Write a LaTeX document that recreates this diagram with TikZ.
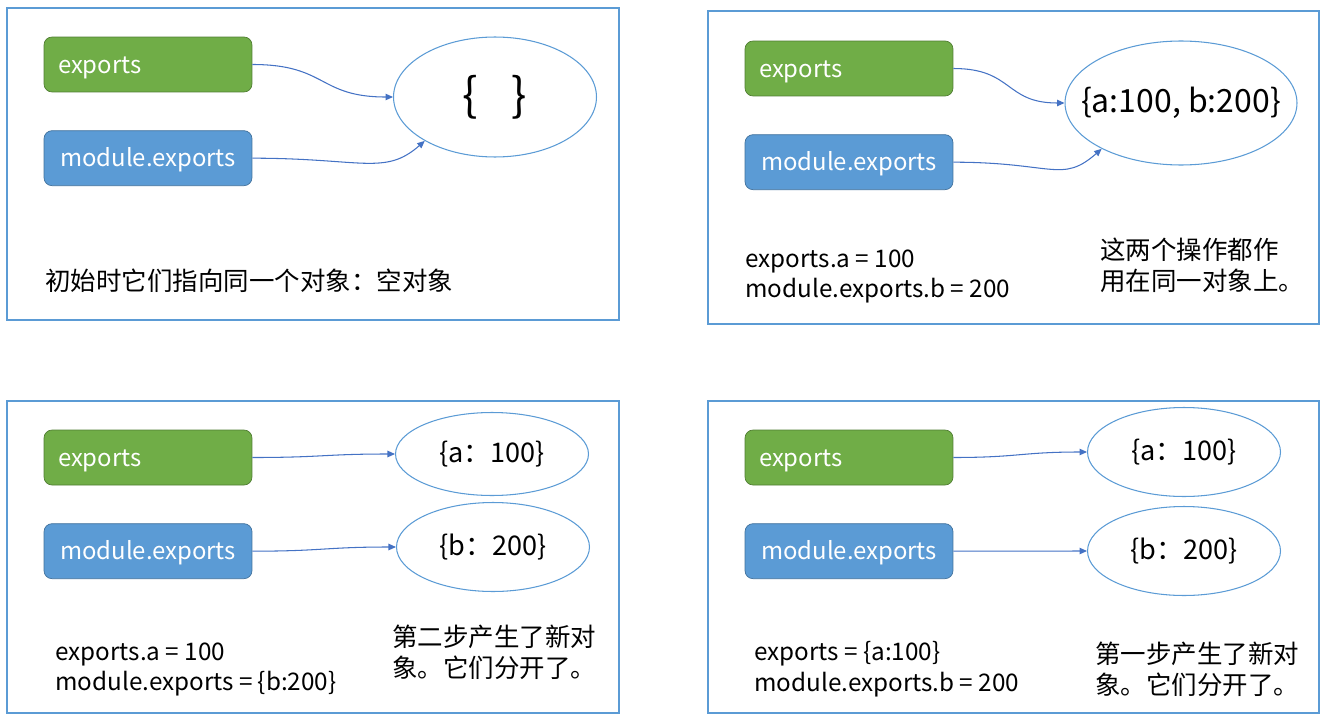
\documentclass[tikz,border=0pt]{standalone}
\usepackage{fontspec}
\setmainfont{Noto Sans CJK SC}
\usepackage{xcolor}
\usepackage{tikz}
\usetikzlibrary{positioning,shapes.geometric,arrows.meta}

\definecolor{boxgreen}{HTML}{70AD47}
\definecolor{boxgreenline}{HTML}{507E32}
\definecolor{boxblue}{HTML}{5B9BD5}
\definecolor{boxblueline}{HTML}{41719C}
\definecolor{framecol}{HTML}{5B9BD5}
\definecolor{arrowcol}{HTML}{4472C4}

\begin{document}
\begin{tikzpicture}[x=0.02cm,y=-0.02cm,
    panel/.style={draw=framecol, line width=0.6pt},
    gbox/.style={rectangle, rounded corners=0.16cm, fill=boxgreen, draw=boxgreenline,
      text=white, minimum height=1.1cm, text width=3.6cm, inner xsep=0.28cm, align=left,
      text height=1.1em, text depth=0.1em, font=\fontsize{13.6}{17.6}\selectfont},
    bbox/.style={rectangle, rounded corners=0.16cm, fill=boxblue, draw=boxblueline,
      text=white, minimum height=1.1cm, minimum width=4.16cm,
      text height=1.1em, text depth=0.1em, font=\fontsize{13.6}{17.6}\selectfont},
    obj/.style={ellipse, draw=framecol, line width=0.6pt, inner sep=0pt},
    note/.style={anchor=west, inner sep=0pt, align=left,
      font=\fontsize{14.5}{17.6}\selectfont},
    code/.style={anchor=west, inner sep=0pt, align=left,
      font=\fontsize{13.8}{17.6}\selectfont},
    ptr/.style={draw=arrowcol, line width=0.6pt, -{Triangle[length=1.5mm,width=1.3mm]}},
    node distance=0.76cm]
    \useasboundingbox (0,0) rectangle (1331,723);

    % panel 1
    \draw[panel] (7,8) rectangle (619,320);
    \node [gbox] (g1) at (148,64.5) {exports};
    \node [bbox, below=of g1] (b1) {module.exports};
    \node [obj, minimum width=4.06cm, minimum height=2.4cm,
      label={[font=\fontsize{26}{28}\selectfont]center:\{\hspace{0.68cm}\}}] (e1) at (495,97) {};
    \node [note] (t1) at (45,281) {初始时它们指向同一个对象：空对象};
    \draw[ptr] (g1.east) .. controls +(75,0) and +(-75,0) .. (e1.west);
    \draw[ptr] (b1.east) .. controls +(110,0) and +(-40,35) .. (e1.-148);

    % panel 2
    \draw[panel] (708,11) rectangle (1319,324);
    \node [gbox] (g2) at (849,68.5) {exports};
    \node [bbox, below=of g2] (b2) {module.exports};
    \node [obj, minimum width=4.64cm, minimum height=2.48cm,
      label={[font=\fontsize{18.2}{20}\selectfont]center:\{a:100, b:200\}}] (e2) at (1181,103) {};
    \node [code] (t2a) at (745,276.5) {exports.a = 100\\module.exports.b = 200};
    \node [note] (t2b) at (1100,265) {这两个操作都作\\用在同一对象上。};
    \draw[ptr] (g2.east) .. controls +(60,0) and +(-60,0) .. (e2.west);
    \draw[ptr] (b2.east) .. controls +(100,0) and +(-40,35) .. (e2.-150);

    % panel 3
    \draw[panel] (7,401) rectangle (619,713);
    \node [gbox] (g3) at (148,457.5) {exports};
    \node [bbox, below=of g3] (b3) {module.exports};
    \node [obj, minimum width=3.86cm, minimum height=1.66cm,
      label={[font=\fontsize{15.4}{19}\selectfont]center:\{a：100\}}] (ea3) at (492,454) {};
    \node [obj, minimum width=3.86cm, minimum height=1.78cm,
      label={[font=\fontsize{15.4}{19}\selectfont]center:\{b：200\}}] (eb3) at (493,547) {};
    \node [code] (t3a) at (55,669.5) {exports.a = 100\\module.exports = \{b:200\}};
    \node [note] (t3b) at (392,652.5) {第二步产生了新对\\象。它们分开了。};
    \draw[ptr] (g3.east) .. controls +(70,0) and +(-70,0) .. (ea3.west);
    \draw[ptr] (b3.east) .. controls +(70,0) and +(-70,0) .. (eb3.west);

    % panel 4
    \draw[panel] (708,401) rectangle (1319,713);
    \node [gbox] (g4) at (849,457.5) {exports};
    \node [bbox, below=of g4] (b4) {module.exports};
    \node [obj, minimum width=3.86cm, minimum height=1.78cm,
      label={[font=\fontsize{15.4}{19}\selectfont]center:\{a：100\}}] (ea4) at (1184,452) {};
    \node [obj, minimum width=3.86cm, minimum height=1.78cm,
      label={[font=\fontsize{15.4}{19}\selectfont]center:\{b：200\}}] (eb4) at (1184,551) {};
    \node [code] (t4a) at (754,669.5) {exports = \{a:100\}\\module.exports.b = 200};
    \node [note] (t4b) at (1095,669.5) {第一步产生了新对\\象。它们分开了。};
    \draw[ptr] (g4.east) .. controls +(65,0) and +(-65,0) .. (ea4.west);
    \draw[ptr] (b4.east) -- (eb4.west);
\end{tikzpicture}
\end{document}
